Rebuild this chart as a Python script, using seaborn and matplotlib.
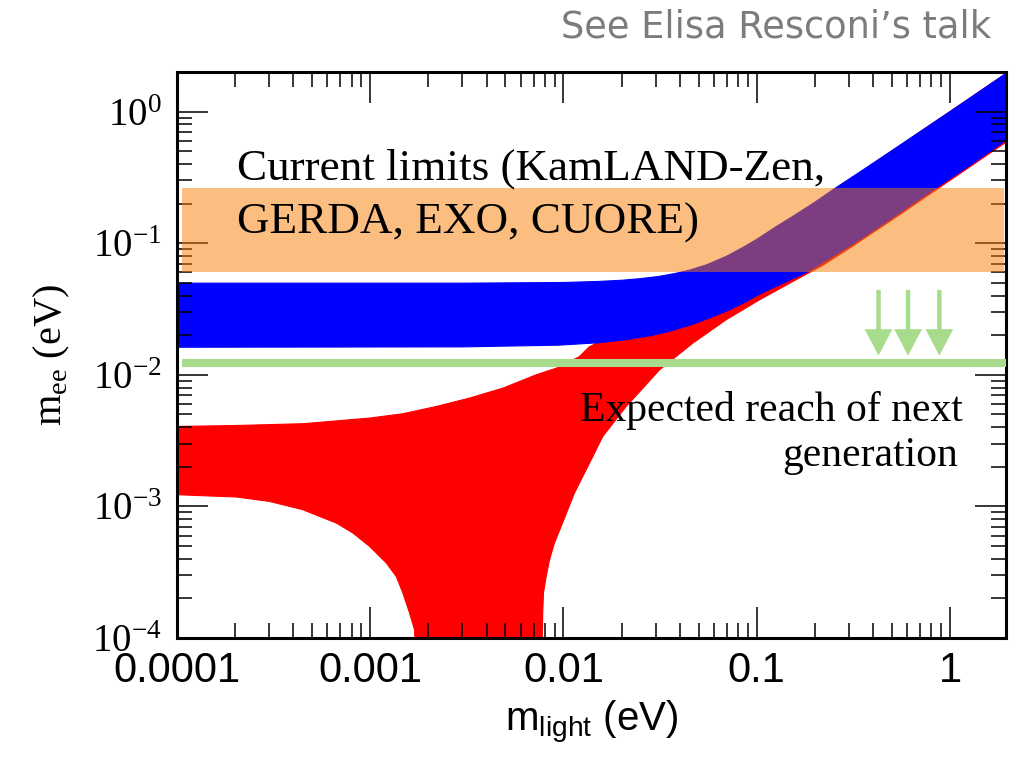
import numpy as np
import matplotlib
matplotlib.use("Agg")
import matplotlib.pyplot as plt
import seaborn as sns
from matplotlib.ticker import FixedLocator, FixedFormatter, LogLocator, NullFormatter

# Effective Majorana mass m_ee (eV) against the lightest neutrino mass (eV)
# Inverted hierarchy band
ih_upper_x = [1e-4, 3e-3, 0.010, 0.015, 0.020, 0.025, 0.0314, 0.038, 0.045, 0.055, 0.0697, 0.085,
              0.100, 0.126, 0.160, 0.200, 0.247, 0.350, 0.50, 0.70, 1.0, 1.4, 2.0]
ih_upper_y = [0.0497, 0.0497, 0.0503, 0.0512, 0.0523, 0.0538, 0.0560, 0.0590, 0.0625, 0.0685, 0.0795, 0.093,
              0.107, 0.1336, 0.166, 0.205, 0.254, 0.356, 0.505, 0.704, 1.0, 1.4, 2.0]
ih_lower_x = [1e-4, 3e-3, 0.0095, 0.015, 0.0212, 0.028, 0.035, 0.0466, 0.058, 0.070, 0.085, 0.1035,
              0.130, 0.181, 0.250, 0.340, 0.50, 0.848, 1.3, 2.0]
ih_lower_y = [0.0162, 0.0163, 0.0168, 0.0175, 0.0185, 0.0198, 0.0213, 0.0242, 0.0273, 0.0305, 0.0350, 0.0410,
              0.0480, 0.0600, 0.0800, 0.106, 0.155, 0.263, 0.40, 0.62]

# Normal hierarchy band
nh_upper_x = [1e-4, 2.03e-4, 4.48e-4, 9.92e-4, 1.475e-3, 2.19e-3, 3.26e-3, 4.86e-3, 7.22e-3, 9.53e-3,
              0.0121, 0.0136, 0.020, 0.030, 0.050, 0.10, 0.30, 1.0, 2.0]
nh_upper_y = [4.05e-3, 4.12e-3, 4.25e-3, 4.69e-3, 5.06e-3, 5.74e-3, 6.65e-3, 7.92e-3, 0.0100, 0.01144,
              0.01377, 0.0163, 0.022, 0.031, 0.051, 0.10, 0.30, 1.0, 2.0]
nh_lower_x = [1e-4, 2.03e-4, 3.01e-4, 4.48e-4, 5.47e-4, 6.67e-4, 8.13e-4, 9.92e-4, 1.21e-3, 1.363e-3,
              1.475e-3, 1.597e-3, 1.695e-3, 1.74e-3,
              7.70e-3, 7.81e-3, 7.88e-3, 8.14e-3, 8.47e-3, 8.98e-3, 9.73e-3, 0.01053, 0.0114, 0.01259,
              0.01416, 0.01597, 0.0211, 0.0314, 0.0467, 0.0695, 0.1033, 0.1535, 0.22, 0.30, 0.50, 0.85,
              1.3, 2.0]
nh_lower_y = [1.227e-3, 1.179e-3, 1.091e-3, 9.44e-4, 8.39e-4, 7.48e-4, 6.28e-4, 4.97e-4, 3.72e-4, 2.94e-4,
              2.20e-4, 1.55e-4, 1.158e-4, 5e-5,
              5e-5, 1.55e-4, 2.20e-4, 2.94e-4, 3.94e-4, 5.27e-4, 7.05e-4, 9.44e-4, 1.264e-3, 1.69e-3,
              2.38e-3, 3.40e-3, 5.74e-3, 0.0109, 0.0174, 0.0262, 0.0371, 0.0511, 0.068, 0.091, 0.150, 0.255,
              0.39, 0.60]

# Experimental sensitivities
limits_low, limits_high = 0.060, 0.262
next_gen_reach = 0.0123
arrow_x = [0.427, 0.607, 0.881]
arrow_tail, arrow_tip = 0.0442, 0.0140

x_ticks = [1e-4, 1e-3, 1e-2, 1e-1, 1.0]
x_tick_labels = ["0.0001", "0.001", "0.01", "0.1", "1"]
y_exponents = [-4, -3, -2, -1, 0]

RED, BLUE = "#ff0000", "#0000ff"
ORANGE = (0.98, 0.49, 0.02)
GREEN = "#a8dc8c"

sns.set_theme(style="ticks")
plt.rcParams["font.family"] = ["Liberation Serif", "DejaVu Sans"]

W, H = 1024, 763
fig = plt.figure(figsize=(W / 100, H / 100), dpi=100)
L, R, T, B = 177, 1006, 72, 638
ax = fig.add_axes([L / W, 1 - B / H, (R - L) / W, (B - T) / H])
ax.set_xscale("log")
ax.set_yscale("log")
ax.set_xlim(1e-4, 1.95)
ax.set_ylim(1e-4, 2.0)
ax.set_axisbelow(False)


def band_polygon(xu, yu, xl, yl):
    return list(xu) + list(xl)[::-1], list(yu) + list(yl)[::-1]


# normal hierarchy (red) underneath, inverted hierarchy (blue) on top
px, py = band_polygon(nh_upper_x, nh_upper_y, nh_lower_x, nh_lower_y)
ax.fill(px, py, color=RED, lw=0, zorder=1)
sns.lineplot(x=nh_upper_x, y=nh_upper_y, color=RED, lw=0.8, ax=ax, zorder=1, sort=False)
sns.lineplot(x=nh_lower_x, y=nh_lower_y, color=RED, lw=0.8, ax=ax, zorder=1, sort=False)

px, py = band_polygon(ih_upper_x, ih_upper_y, ih_lower_x, ih_lower_y)
ax.fill(px, py, color=BLUE, lw=0, zorder=2)
sns.lineplot(x=ih_upper_x, y=ih_upper_y, color=BLUE, lw=0.8, ax=ax, zorder=2, sort=False)
sns.lineplot(x=ih_lower_x, y=ih_lower_y, color=BLUE, lw=0.8, ax=ax, zorder=2, sort=False)

# current limits band, translucent over everything
ax.axhspan(limits_low, limits_high, xmin=0.006, xmax=0.998, color=ORANGE, alpha=0.5, lw=0, zorder=3)

# next-generation reach
ax.axhline(next_gen_reach, xmin=0.006, xmax=1.0, color=GREEN, lw=5.8, zorder=4, solid_capstyle="butt")
for xa in arrow_x:
    ax.annotate("", xy=(xa, arrow_tip), xytext=(xa, arrow_tail),
                arrowprops=dict(arrowstyle="simple,head_length=0.95,head_width=1.0,tail_width=0.16",
                                mutation_scale=20, color=GREEN, lw=0, shrinkA=0, shrinkB=0),
                zorder=4)

# axes frame and ticks
for sp in ax.spines.values():
    sp.set_linewidth(2.2)
    sp.set_color("black")
    sp.set_zorder(2.6)

ax.xaxis.set_major_locator(FixedLocator(x_ticks))
ax.xaxis.set_major_formatter(FixedFormatter(x_tick_labels))
ax.xaxis.set_minor_locator(LogLocator(base=10, subs=np.arange(2, 10), numticks=30))
ax.xaxis.set_minor_formatter(NullFormatter())
ax.yaxis.set_major_locator(FixedLocator([10.0 ** e for e in y_exponents]))
ax.yaxis.set_major_formatter(FixedFormatter([r"$\mathdefault{10^{%d}}$" % e for e in y_exponents]))
ax.yaxis.set_minor_locator(LogLocator(base=10, subs=np.arange(2, 10), numticks=30))
ax.yaxis.set_minor_formatter(NullFormatter())

ax.tick_params(which="both", direction="in", top=True, right=True, color="black", width=1.1)
ax.tick_params(which="major", length=22)
ax.tick_params(which="minor", length=11)
ax.tick_params(axis="x", which="major", pad=9, labelsize=30, labelfontfamily="Liberation Sans", labelcolor="black")
ax.tick_params(axis="y", which="major", pad=11, labelsize=28, labelfontfamily="Liberation Serif", labelcolor="black")

ax.set_xlabel(r"m$_{\mathdefault{light}}$ (eV)", fontfamily="Liberation Sans", fontsize=29, color="black")
ax.xaxis.set_label_coords(0.5, -0.108)
ax.set_ylabel(r"m$_{\mathdefault{ee}}$ (eV)", fontfamily="Liberation Serif", fontsize=29, color="black")
ax.yaxis.set_label_coords(-0.127, 0.5)

# annotations
fig.text(237 / W, 1 - 180 / H, "Current limits (KamLAND-Zen,", fontsize=32.5,
         fontfamily="Liberation Serif", color="black", ha="left", va="baseline", zorder=5)
fig.text(237 / W, 1 - 234 / H, "GERDA, EXO, CUORE)", fontsize=32.5,
         fontfamily="Liberation Serif", color="black", ha="left", va="baseline", zorder=5)
fig.text(963 / W, 1 - 421 / H, "Expected reach of next", fontsize=30,
         fontfamily="Liberation Serif", color="black", ha="right", va="baseline", zorder=5)
fig.text(958 / W, 1 - 466 / H, "generation", fontsize=30,
         fontfamily="Liberation Serif", color="black", ha="right", va="baseline", zorder=5)
fig.text(991 / W, 1 - 38 / H, "See Elisa Resconi\u2019s talk", fontsize=26.5,
         fontfamily="DejaVu Sans", fontweight="normal", color="#7c7c7c", ha="right", va="baseline")

fig.savefig("out.png", dpi=100)
